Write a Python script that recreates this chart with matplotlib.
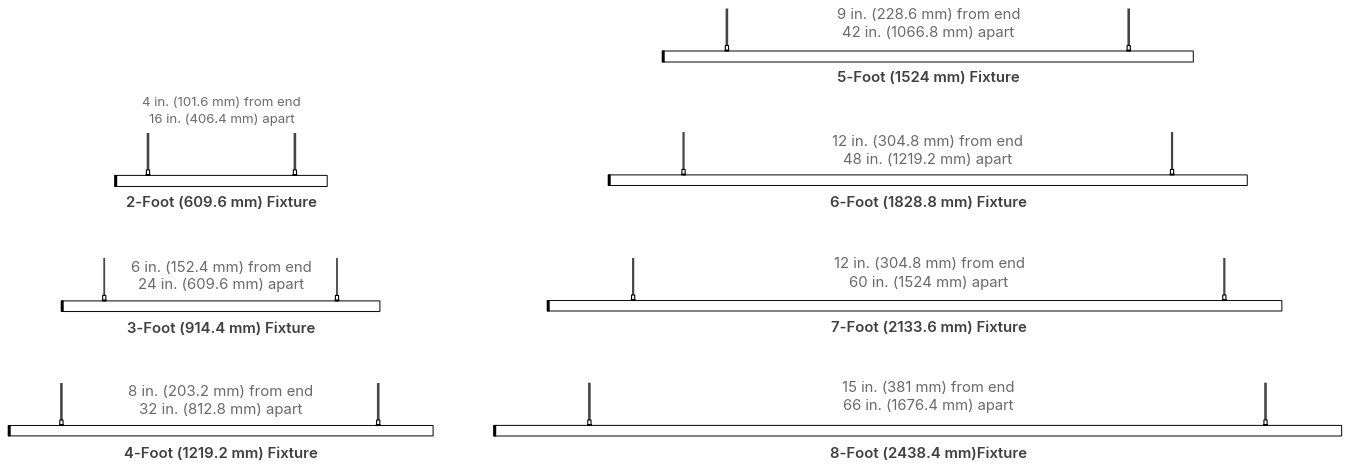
import matplotlib
matplotlib.use("Agg")
import matplotlib.pyplot as plt
from matplotlib.patches import Rectangle

# Values (inches, as drawn / as labelled)
feet = [2, 3, 4, 5, 6, 7, 8]
cable_offset_in = [3.75, 4.85, 6.0, 7.3, 8.5, 9.7, 10.8]
cable_span_in = [16.6, 26.3, 35.8, 45.4, 55.2, 66.8, 76.4]
length_in = [24.0, 36.0, 48.0, 60.0, 72.2, 83.0, 95.8]
titles = ["2-Foot (609.6 mm) Fixture", "3-Foot (914.4 mm) Fixture", "4-Foot (1219.2 mm) Fixture",
          "5-Foot (1524 mm) Fixture", "6-Foot (1828.8 mm) Fixture", "7-Foot (2133.6 mm) Fixture",
          "8-Foot (2438.4 mm)Fixture"]
end_labels = ["4 in. (101.6 mm) from end", "6 in. (152.4 mm) from end", "8 in. (203.2 mm) from end",
              "9 in. (228.6 mm) from end", "12 in. (304.8 mm) from end", "12 in. (304.8 mm) from end",
              "15 in. (381 mm) from end"]
apart_labels = ["16 in. (406.4 mm) apart", "24 in. (609.6 mm) apart", "32 in. (812.8 mm) apart",
                "42 in. (1066.8 mm) apart", "48 in. (1219.2 mm) apart", "60 in. (1524 mm) apart",
                "66 in. (1676.4 mm) apart"]

# Layout (pixels)
PX = 8.85
W, H = 1367, 468
bar_left = [114.8, 61.3, 8.3, 662.3, 608.3, 547.3, 493.8]
bar_top = [175.4, 300.9, 425.5, 51.0, 174.9, 300.5, 425.4]
bar_bottom = [186.5, 311.5, 435.9, 62.0, 185.5, 311.0, 436.0]
cable_top = [133, 258, 383, 8.5, 132, 258, 382.7]
cable_px = [2.6, 1.8, 2.6, 2.6, 2.2, 2.2, 2.6]
text_x = [221.5, 221, 221, 928.5, 928, 929, 928]
end_y = [103, 267.5, 392, 15, 142, 264, 388]
apart_y = [120, 284.5, 410, 33, 160, 283, 406]
title_y = [203, 329, 454, 78, 203, 328, 454]
end_width_px = [160, 182, 186, 185, 192, 192, 173]
TITLE_WIDTH_PX = 197

plt.rcParams["font.family"] = ["Inter", "DejaVu Sans"]

fig = plt.figure(figsize=(W / 100, H / 100), dpi=100, facecolor="white")
ax = fig.add_axes([0, 0, 1, 1])
ax.set_xlim(0, W)
ax.set_ylim(H, 0)
ax.axis("off")
renderer = fig.canvas.get_renderer()


def size_for(s, width_px, **kw):
    t = ax.text(0, 0, s, fontsize=10, **kw)
    w = t.get_window_extent(renderer).width
    t.remove()
    return 10 * width_px / w


title_fs = size_for(titles[6], TITLE_WIDTH_PX, fontweight="semibold")

for i in range(len(feet)):
    x0, top, bot = bar_left[i], bar_top[i], bar_bottom[i]
    length = length_in[i] * PX
    ax.add_patch(Rectangle((x0, top), length, bot - top, fc="white", ec="#111111", lw=0.75, snap=False, zorder=2))
    ax.add_patch(Rectangle((x0 - 0.4, top - 0.4), 2.8, bot - top + 0.8, fc="black", ec="none", snap=False, zorder=3))
    xa = x0 + cable_offset_in[i] * PX
    xb = xa + cable_span_in[i] * PX
    for xc in (xa, xb):
        ax.plot([xc, xc], [cable_top[i], top - 5], color="#454545", lw=cable_px[i] * 0.72,
                solid_capstyle="butt", snap=False, zorder=2)
        ax.add_patch(Rectangle((xc - 1.6, top - 5.5), 3.2, 5.5, fc="white", ec="black", lw=0.8, snap=False, zorder=3))
        ax.add_patch(Rectangle((xc - 2.4, top - 1.4), 4.8, 1.6, fc="black", ec="none", snap=False, zorder=4))
    fs = size_for(end_labels[i], end_width_px[i])
    ax.text(text_x[i], end_y[i], end_labels[i], ha="center", va="center", fontsize=fs, color="#6a6a6a")
    ax.text(text_x[i], apart_y[i], apart_labels[i], ha="center", va="center", fontsize=fs, color="#6a6a6a")
    ax.text(text_x[i], title_y[i], titles[i], ha="center", va="center", fontsize=title_fs,
            fontweight="semibold", color="#404040")

fig.savefig("out.png", dpi=100)
